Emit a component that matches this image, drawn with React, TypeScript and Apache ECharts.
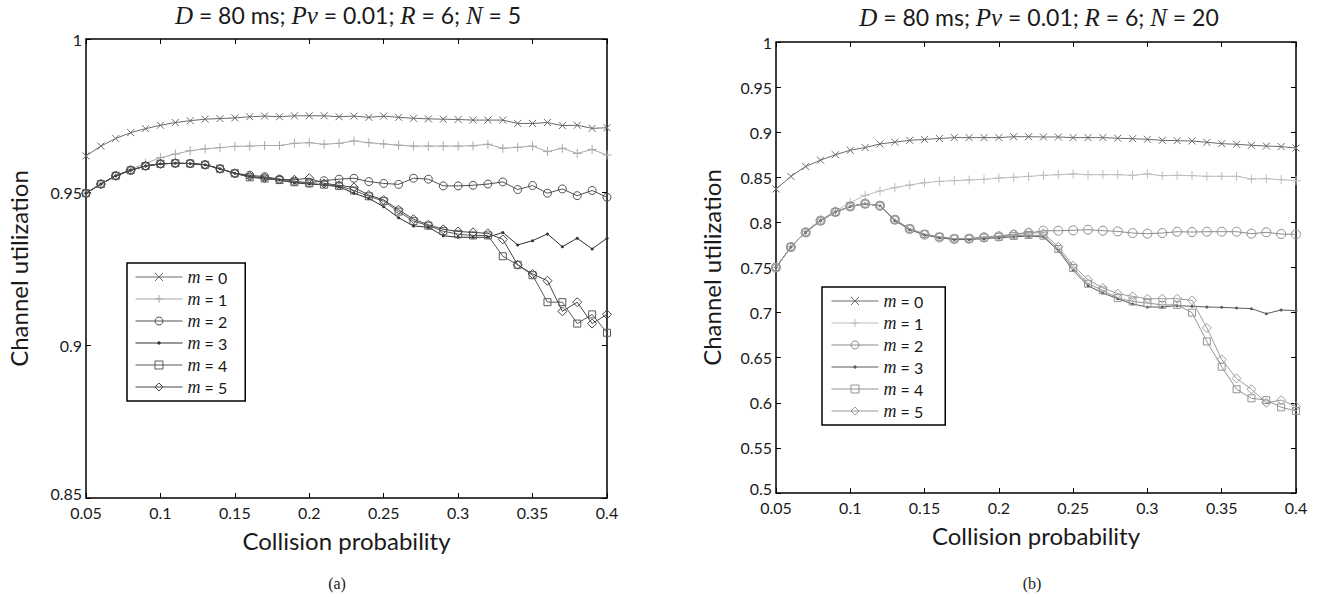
import React, { useEffect, useRef } from 'react';
import * as echarts from 'echarts';

// x values (collision probability)
const collisionProb = [
  0.05, 0.06, 0.07, 0.08, 0.09, 0.1, 0.11, 0.12, 0.13, 0.14, 0.15, 0.16,
  0.17, 0.18, 0.19, 0.2, 0.21, 0.22, 0.23, 0.24, 0.25, 0.26, 0.27, 0.28,
  0.29, 0.3, 0.31, 0.32, 0.33, 0.34, 0.35, 0.36, 0.37, 0.38, 0.39, 0.4,
];

const xTicks = [0.05, 0.1, 0.15, 0.2, 0.25, 0.3, 0.35, 0.4];
const yTicksA = [0.85, 0.9, 0.95, 1];
const yTicksB = [0.5, 0.55, 0.6, 0.65, 0.7, 0.75, 0.8, 0.85, 0.9, 0.95, 1];

const mLabels = ['0', '1', '2', '3', '4', '5'];

// (a) N = 5
const a_m0 = [0.9618, 0.965, 0.9675, 0.9694, 0.9707, 0.9718, 0.9727, 0.9733, 0.9738, 0.974, 0.9742, 0.9746,
  0.9748, 0.9746, 0.9749, 0.9749, 0.9749, 0.9746, 0.9748, 0.9744, 0.9748, 0.9744, 0.9741, 0.9739,
  0.9738, 0.9737, 0.9735, 0.9735, 0.9735, 0.9724, 0.9724, 0.9727, 0.9717, 0.9718, 0.9708, 0.971];
const a_m1 = [0.9496, 0.9526, 0.9553, 0.9574, 0.9594, 0.9612, 0.9624, 0.9635, 0.9641, 0.9645, 0.9649, 0.965,
  0.9652, 0.9652, 0.9659, 0.9661, 0.9656, 0.9659, 0.9667, 0.9661, 0.9657, 0.9653, 0.965, 0.965,
  0.965, 0.965, 0.9651, 0.9656, 0.9643, 0.9646, 0.965, 0.9632, 0.9643, 0.9626, 0.9639, 0.9621];
const a_m2 = [0.9496, 0.9526, 0.9553, 0.9571, 0.9585, 0.9592, 0.9594, 0.9593, 0.9589, 0.9576, 0.9561, 0.9555,
  0.955, 0.9542, 0.9535, 0.953, 0.9537, 0.9542, 0.9545, 0.9534, 0.9528, 0.9525, 0.9545, 0.9542,
  0.952, 0.952, 0.9522, 0.9526, 0.9533, 0.9508, 0.9521, 0.9496, 0.951, 0.9488, 0.9505, 0.9483];
const a_m3 = [0.9496, 0.9526, 0.9553, 0.9571, 0.9585, 0.9592, 0.9594, 0.9593, 0.9589, 0.9576, 0.9561, 0.955,
  0.9544, 0.9539, 0.953, 0.9526, 0.9523, 0.9517, 0.9496, 0.9479, 0.9452, 0.9416, 0.9389, 0.9385,
  0.9357, 0.9352, 0.9352, 0.9352, 0.9368, 0.9327, 0.9341, 0.9363, 0.9321, 0.9349, 0.9314, 0.9349];
const a_m4 = [0.9496, 0.9526, 0.9553, 0.9571, 0.9585, 0.9592, 0.9594, 0.9593, 0.9589, 0.9576, 0.9561, 0.9548,
  0.9544, 0.9539, 0.9532, 0.9528, 0.9524, 0.952, 0.9505, 0.9486, 0.947, 0.9436, 0.9405, 0.939,
  0.9372, 0.9362, 0.9358, 0.9358, 0.929, 0.9262, 0.9228, 0.914, 0.914, 0.907, 0.91, 0.904];
const a_m5 = [0.9496, 0.9526, 0.9553, 0.9571, 0.9585, 0.9592, 0.9594, 0.9593, 0.9589, 0.9576, 0.9561, 0.9552,
  0.9546, 0.9541, 0.954, 0.9545, 0.9528, 0.9522, 0.9515, 0.949, 0.9474, 0.9442, 0.9411, 0.9393,
  0.9378, 0.9371, 0.9368, 0.9365, 0.9345, 0.9262, 0.9232, 0.921, 0.911, 0.914, 0.907, 0.91];

// (b) N = 20
const b_m0 = [0.837, 0.851, 0.862, 0.869, 0.875, 0.88, 0.883, 0.887, 0.889, 0.891, 0.892, 0.893,
  0.894, 0.894, 0.894, 0.894, 0.895, 0.895, 0.8947, 0.8947, 0.894, 0.894, 0.894, 0.8933,
  0.8928, 0.8921, 0.891, 0.8906, 0.8902, 0.8888, 0.8873, 0.8866, 0.8855, 0.8847, 0.884, 0.8825];
const b_m1 = [0.75, 0.773, 0.79, 0.803, 0.8125, 0.822, 0.83, 0.8348, 0.8385, 0.8415, 0.844, 0.8455,
  0.8463, 0.847, 0.8477, 0.8492, 0.85, 0.851, 0.8522, 0.8529, 0.8537, 0.8529, 0.8529, 0.8529,
  0.8522, 0.8537, 0.8518, 0.8522, 0.8518, 0.8511, 0.8511, 0.8511, 0.8481, 0.8485, 0.8474, 0.8463];
const b_m2 = [0.75, 0.7727, 0.7889, 0.8019, 0.8115, 0.8177, 0.8207, 0.8185, 0.803, 0.7927, 0.7864, 0.7834,
  0.7816, 0.782, 0.7834, 0.7845, 0.7864, 0.7882, 0.7908, 0.7908, 0.7912, 0.7919, 0.7908, 0.79,
  0.7882, 0.7875, 0.7882, 0.7897, 0.7893, 0.7897, 0.7897, 0.7897, 0.7875, 0.789, 0.7871, 0.7868];
const b_m3 = [0.75, 0.7727, 0.7889, 0.8019, 0.8115, 0.8177, 0.8207, 0.8185, 0.802, 0.792, 0.786, 0.783,
  0.781, 0.781, 0.782, 0.783, 0.784, 0.785, 0.7838, 0.769, 0.7468, 0.7298, 0.7217, 0.7154,
  0.7095, 0.7062, 0.7062, 0.7077, 0.707, 0.7062, 0.7058, 0.7051, 0.7044, 0.6988, 0.7029, 0.7022];
const b_m4 = [0.75, 0.7727, 0.7889, 0.8019, 0.8115, 0.8177, 0.8207, 0.8185, 0.803, 0.793, 0.787, 0.784,
  0.782, 0.782, 0.783, 0.784, 0.785, 0.786, 0.7853, 0.7705, 0.7494, 0.732, 0.7246, 0.716,
  0.7124, 0.7105, 0.7086, 0.7086, 0.7, 0.668, 0.64, 0.615, 0.605, 0.603, 0.595, 0.591];
const b_m5 = [0.75, 0.7727, 0.7889, 0.8019, 0.8115, 0.8177, 0.8207, 0.8185, 0.803, 0.793, 0.787, 0.784,
  0.782, 0.782, 0.784, 0.785, 0.787, 0.789, 0.788, 0.773, 0.752, 0.7365, 0.7273, 0.721,
  0.718, 0.7154, 0.7154, 0.7154, 0.7136, 0.683, 0.648, 0.627, 0.615, 0.6, 0.603, 0.596];

const seriesA = [a_m0, a_m1, a_m2, a_m3, a_m4, a_m5];
const seriesB = [b_m0, b_m1, b_m2, b_m3, b_m4, b_m5];

const SANS = 'Lato';
const SERIF = 'Liberation Serif';

const symX = 'path://M0,0L10,10M10,0L0,10';
const symPlus = 'path://M5,0L5,10M0,5L10,5';
const symDot = 'path://M0,0M10,10M3.5,5a1.5,1.5 0 1,0 3,0a1.5,1.5 0 1,0 -3,0Z';
const symbols = [symX, symPlus, 'circle', symDot, 'rect', 'diamond'];
const sizesA = [7, 9, 8, 10, 7, 9];
const sizesB = [7, 9, 9, 10, 7, 9];
const colorsA = ['#6a6a6a', '#a8a8a8', '#505050', '#303030', '#5a5a5a', '#484848'];
const colorsB = ['#6a6a6a', '#bcbcbc', '#8c8c8c', '#5a5a5a', '#939393', '#9a9a9a'];

function makeSeries(prefix: string, data: number[][], colors: string[], sizes: number[], axisIdx: number) {
  return data.map((arr, k) => {
    const c = colors[k];
    const filled = k === 3;
    return {
      type: 'line',
      name: prefix + mLabels[k],
      xAxisIndex: axisIdx,
      yAxisIndex: axisIdx,
      data: collisionProb.map((x, i) => [x, arr[i]]),
      symbol: symbols[k],
      symbolSize: sizes[k],
      showAllSymbol: true,
      lineStyle: { color: c, width: 1 },
      itemStyle: filled
        ? { color: c, borderColor: c, borderWidth: 0 }
        : { color: 'none', borderColor: c, borderWidth: 1 },
      emphasis: { disabled: true },
      z: 2 + k,
    };
  });
}

function axesFor(gridIndex: number, yTicks: number[]) {
  const yMin = yTicks[0];
  const tickStyle = { inside: true, length: 5, lineStyle: { color: '#000', width: 1 } };
  const label = { color: '#1a1a1a', fontSize: 16, fontFamily: SANS };
  const xMain = {
    gridIndex, type: 'value', min: xTicks[0], max: xTicks[xTicks.length - 1], interval: 0.05,
    axisLine: { show: false }, axisTick: tickStyle, splitLine: { show: false },
    axisLabel: { ...label, margin: 6, formatter: (v: number) => String(+v.toFixed(2)) },
    name: 'Collision probability', nameLocation: 'middle', nameGap: 30,
    nameTextStyle: { fontSize: 24, fontFamily: SANS, color: '#1a1a1a' },
  };
  const xTop = {
    gridIndex, type: 'value', position: 'top', min: xTicks[0], max: xTicks[xTicks.length - 1], interval: 0.05,
    axisLine: { show: false }, axisTick: tickStyle, splitLine: { show: false }, axisLabel: { show: false },
  };
  const yMain = {
    gridIndex, type: 'value', min: yMin, max: yTicks[yTicks.length - 1], interval: 0.05,
    axisLine: { show: false }, axisTick: tickStyle, splitLine: { show: false },
    axisLabel: {
      ...label, margin: 4,
      formatter: (v: number) => {
        const s = String(+v.toFixed(2));
        return Math.abs(v - yMin) < 1e-9 ? `{lo|${s}}` : s;
      },
      rich: { lo: { fontSize: 16, fontFamily: SANS, color: '#1a1a1a', padding: [0, 0, 9, 0] } },
    },
    name: 'Channel utilization', nameLocation: 'middle', nameRotate: 90,
    nameGap: gridIndex === 0 ? 56 : 53,
    nameTextStyle: { fontSize: 24, fontFamily: SANS, color: '#1a1a1a' },
  };
  const yRight = {
    gridIndex, type: 'value', position: 'right', min: yMin, max: yTicks[yTicks.length - 1], interval: 0.05,
    axisLine: { show: false }, axisTick: tickStyle, splitLine: { show: false }, axisLabel: { show: false },
  };
  return { x: [xMain, xTop], y: [yMain, yRight] };
}

const legendRich = {
  i: { fontFamily: SERIF, fontStyle: 'italic', fontSize: 18, color: '#1a1a1a', lineHeight: 16 },
  n: { fontFamily: SANS, fontSize: 16, color: '#1a1a1a', lineHeight: 16 },
};
const titleRich = {
  i: { fontFamily: SERIF, fontStyle: 'italic', fontSize: 25, fill: '#1a1a1a', lineHeight: 24 },
  n: { fontFamily: SANS, fontSize: 23, fill: '#1a1a1a', lineHeight: 24 },
};

export default function App() {
  const ref = useRef<HTMLDivElement>(null);
  useEffect(() => {
    if (!ref.current) return;
    const chart = echarts.init(ref.current, undefined, { renderer: 'svg' });
    const aAx = axesFor(0, yTicksA);
    const bAx = axesFor(1, yTicksB);
    const namesA = mLabels.map((m) => 'a' + m);
    const namesB = mLabels.map((m) => 'b' + m);
    const legendBase = {
      orient: 'vertical', itemWidth: 47, itemHeight: 10, itemGap: 4,
      borderColor: '#000', borderWidth: 1.5, backgroundColor: '#fff',
      selectedMode: false,
      itemStyle: { borderWidth: 1 },
      lineStyle: { width: 1 },
      formatter: (name: string) => `{i|m}{n| = ${name.slice(1)}}`,
      textStyle: { rich: legendRich },
    };
    chart.setOption({
      animation: false,
      backgroundColor: '#fff',
      grid: [
        { left: 86, top: 39, width: 521, height: 459, show: true, borderColor: '#000', borderWidth: 1.5, backgroundColor: 'transparent' },
        { left: 776, top: 42, width: 520, height: 451, show: true, borderColor: '#000', borderWidth: 1.5, backgroundColor: 'transparent' },
      ],
      xAxis: [...aAx.x, ...bAx.x],
      yAxis: [...aAx.y, ...bAx.y],
      legend: [
        { ...legendBase, data: namesA, left: 127, top: 263, padding: [5, 18, 5, 8] },
        { ...legendBase, data: namesB, left: 822, top: 287, padding: [5, 22, 5, 9] },
      ],
      series: [
        ...makeSeries('a', seriesA, colorsA, sizesA, 0),
        ...makeSeries('b', seriesB, colorsB, sizesB, 2),
      ],
      graphic: [
        {
          type: 'text', x: 348, y: 15,
          style: { text: '{i|D}{n| = 80 ms; }{i|Pv}{n| = 0.01; }{i|R}{n| = 6; }{i|N}{n| = 5}', align: 'center', verticalAlign: 'middle', rich: titleRich },
        },
        {
          type: 'text', x: 1039, y: 17,
          style: { text: '{i|D}{n| = 80 ms; }{i|Pv}{n| = 0.01; }{i|R}{n| = 6; }{i|N}{n| = 20}', align: 'center', verticalAlign: 'middle', rich: titleRich },
        },
        {
          type: 'text', x: 337, y: 583,
          style: { text: '(a)', font: '16px "Liberation Serif"', fill: '#1a1a1a', align: 'center', verticalAlign: 'middle' },
        },
        {
          type: 'text', x: 1032, y: 583,
          style: { text: '(b)', font: '16px "Liberation Serif"', fill: '#1a1a1a', align: 'center', verticalAlign: 'middle' },
        },
      ],
    });
    return () => chart.dispose();
  }, []);
  return (
    <div
      ref={ref}
      style={{ position: 'absolute', left: 0, top: 0, width: 1321, height: 597, background: '#fff' }}
    />
  );
}
